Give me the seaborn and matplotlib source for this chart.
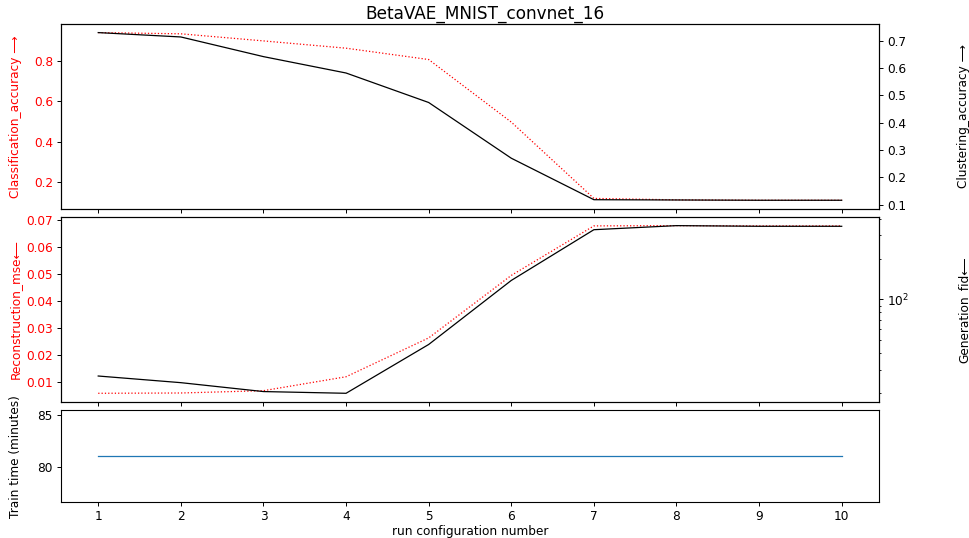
import matplotlib
matplotlib.use("Agg")
import matplotlib.pyplot as plt
import seaborn as sns

runs = [1, 2, 3, 4, 5, 6, 7, 8, 9, 10]
classification_accuracy = [0.939, 0.933, 0.898, 0.862, 0.806, 0.497, 0.120, 0.113, 0.111, 0.111]
clustering_accuracy = [0.730, 0.714, 0.642, 0.582, 0.474, 0.270, 0.118, 0.117, 0.116, 0.116]
reconstruction_mse = [0.00584, 0.00595, 0.0068, 0.01195, 0.0263, 0.0494, 0.0677, 0.0678, 0.0677, 0.0677]
generation_fid = [26.9, 24.0, 20.6, 20.0, 46.2, 138.6, 331.0, 355.0, 351.0, 351.0]
train_time = [81.0, 81.0, 81.0, 81.0, 81.0, 81.0, 81.0, 81.0, 81.0, 81.0]

cls_ticks = [0.2, 0.4, 0.6, 0.8]
clu_ticks = [0.1, 0.2, 0.3, 0.4, 0.5, 0.6, 0.7]
mse_ticks = [0.01, 0.02, 0.03, 0.04, 0.05, 0.06, 0.07]
time_ticks = [80, 85]

plt.rcParams.update({
    "font.size": 8.7,
    "axes.linewidth": 0.8,
    "axes.labelpad": 3.0,
    "xtick.major.size": 3.0,
    "ytick.major.size": 3.0,
    "ytick.minor.size": 1.7,
    "xtick.major.width": 0.7,
    "ytick.major.width": 0.7,
    "ytick.minor.width": 0.6,
    "xtick.major.pad": 2.2,
    "ytick.major.pad": 2.8,
})

fig, axes = plt.subplots(
    3, 1, figsize=(9.69, 5.38), dpi=100, sharex=True,
    gridspec_kw={"height_ratios": [2, 2, 1], "hspace": 0.056}
)
fig.subplots_adjust(left=0.063, right=0.907, top=0.955, bottom=0.066)

# top: accuracies
ax = axes[0]
sns.lineplot(x=runs, y=classification_accuracy, ax=ax, color="red", linestyle=":", linewidth=0.9)
ax.set_yticks(cls_ticks)
ax.set_ylabel("Classification_accuracy ⟶", color="red")
ax.tick_params(axis="y", labelcolor="red")
tw = ax.twinx()
sns.lineplot(x=runs, y=clustering_accuracy, ax=tw, color="black", linewidth=0.9)
tw.set_yticks(clu_ticks)
tw.set_ylabel("Clustering_accuracy ⟶")
tw.yaxis.set_label_coords(1.0957, 0.5)

# middle: reconstruction / generation
ax = axes[1]
sns.lineplot(x=runs, y=reconstruction_mse, ax=ax, color="red", linestyle=":", linewidth=0.9)
ax.set_yticks(mse_ticks)
ax.set_ylabel("Reconstruction_mse⟵", color="red")
ax.tick_params(axis="y", labelcolor="red")
tw = ax.twinx()
tw.set_yscale("log")
sns.lineplot(x=runs, y=generation_fid, ax=tw, color="black", linewidth=0.9)
tw.set_ylabel("Generation_fid⟵")
tw.yaxis.set_label_coords(1.0957, 0.5)

# bottom: train time
ax = axes[2]
sns.lineplot(x=runs, y=train_time, ax=ax, color="#1f77b4", linewidth=0.9)
ax.set_yticks(time_ticks)
ax.set_ylabel("Train time (minutes)")
ax.set_xlabel("run configuration number", labelpad=1.5)
ax.set_xticks(runs)

fig.suptitle("BetaVAE_MNIST_convnet_16", fontsize=12.2, y=0.99)
fig.align_ylabels(axes)

fig.savefig("out.png", dpi=100)
